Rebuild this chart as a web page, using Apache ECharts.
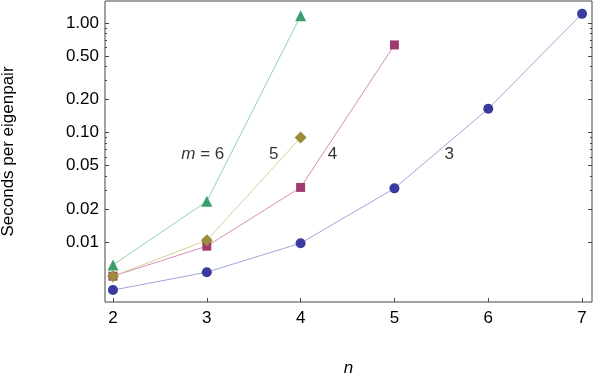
<!DOCTYPE html>
<html>
<head>
<meta charset="utf-8">
<script src="https://cdn.jsdelivr.net/npm/echarts@6/dist/echarts.min.js"></script>
<style>
  html, body { margin: 0; padding: 0; background: #fff; }
  #chart { width: 598px; height: 378px; }
</style>
</head>
<body>
<div id="chart"></div>
<script>
// values (seconds per eigenpair)
const nValues = [2, 3, 4, 5, 6, 7]
const m3 = [0.00366, 0.00533, 0.0098, 0.031, 0.165, 1.21]
const m4 = [0.0049, 0.0092, 0.0316, 0.63]
const m5 = [0.0049, 0.0104, 0.09]
const m6 = [0.0062, 0.0236, 1.16]

const yMajorTicks = [0.01, 0.02, 0.05, 0.1, 0.2, 0.5, 1]
const yMinorTicks = [0.03, 0.04, 0.06, 0.07, 0.08, 0.09, 0.3, 0.4, 0.6, 0.7, 0.8, 0.9]
const xTicks = [2, 3, 4, 5, 6, 7]

// in-plot curve labels: [n, value, text]
const curveLabels = [
  [2.957, 0.063, '{i|m} = 6'],
  [3.713, 0.063, '5'],
  [4.34, 0.063, '4'],
  [5.585, 0.063, '3']
]

const yMin = 0.00285
const yMax = 1.585
const font = 'Liberation Sans, Arial, sans-serif'
const fs = 17

const chart = echarts.init(document.getElementById('chart'))

const pts = arr => arr.map((v, i) => [nValues[i], v])
const lg = v => Math.log10(v)

// helper for overlay axes that only carry ticks/labels
const tickAxis = (position, ticks, len, labels) => ({
  type: 'value',
  position,
  min: lg(yMin),
  max: lg(yMax),
  axisLine: { show: false, onZero: false },
  splitLine: { show: false },
  axisTick: {
    show: true, inside: true, length: len,
    customValues: ticks.map(lg),
    lineStyle: { color: '#444', width: 1 }
  },
  axisLabel: labels ? {
    show: true,
    customValues: ticks.map(lg),
    color: '#000',
    fontFamily: font,
    fontSize: fs,
    margin: 6,
    formatter: v => {
      const t = ticks.find(x => Math.abs(lg(x) - v) < 1e-6)
      return t === undefined ? '' : t.toFixed(2)
    }
  } : { show: false }
})

const lineSeries = (name, data, color, lineColor, symbol, size) => ({
  name,
  type: 'line',
  xAxisIndex: 0,
  yAxisIndex: 0,
  data: pts(data),
  symbol,
  symbolSize: size,
  itemStyle: { color },
  lineStyle: { color: lineColor, width: 1 },
  emphasis: { disabled: true },
  animation: false
})

const option = {
  animation: false,
  grid: {
    left: 105, right: 6, top: 1, bottom: 76,
    outerBoundsMode: 'none',
    containLabel: false,
    show: true, borderColor: '#444', borderWidth: 1
  },
  xAxis: {
    type: 'value',
    min: 1.915,
    max: 7.106,
    axisLine: { show: false, onZero: false },
    splitLine: { show: false },
    axisTick: {
      show: true, inside: true, length: 4,
      customValues: xTicks,
      lineStyle: { color: '#444' }
    },
    axisLabel: {
      customValues: xTicks,
      color: '#000', fontFamily: font, fontSize: fs, margin: 8
    },
    name: 'n',
    nameLocation: 'middle',
    nameGap: 58,
    nameTextStyle: { color: '#000', fontFamily: font, fontSize: fs, fontStyle: 'italic' }
  },
  yAxis: [
    {
      type: 'log',
      logBase: 10,
      min: yMin,
      max: yMax,
      axisLine: { show: false, onZero: false },
      axisTick: { show: false },
      axisLabel: { show: false },
      splitLine: { show: false }
    },
    Object.assign(tickAxis('left', yMajorTicks, 4, true), {
      name: 'Seconds per eigenpair',
      nameLocation: 'middle',
      nameGap: 88,
      nameTextStyle: { color: '#000', fontFamily: font, fontSize: fs }
    }),
    tickAxis('left', yMinorTicks, 2, false),
    tickAxis('right', yMajorTicks, 4, false),
    tickAxis('right', yMinorTicks, 2, false)
  ],
  series: [
    lineSeries('m=3', m3, '#3b3b9f', '#a3a3dc', 'circle', 10),
    lineSeries('m=4', m4, '#9f3b70', '#d38fb2', 'rect', 9),
    lineSeries('m=5', m5, '#9c8b3b', '#d9cd98', 'diamond', 12),
    lineSeries('m=6', m6, '#3b9f6d', '#8fd1ab', 'triangle', 11),
    {
      type: 'scatter',
      xAxisIndex: 0,
      yAxisIndex: 0,
      symbolSize: 0,
      silent: true,
      data: curveLabels.map(d => ({ value: [d[0], d[1]], name: d[2] })),
      label: {
        show: true,
        position: 'inside',
        formatter: p => p.name,
        color: '#000',
        fontFamily: font,
        fontSize: fs,
        rich: {
          i: { fontStyle: 'italic', fontFamily: font, fontSize: fs, color: '#000' }
        }
      }
    }
  ]
}

chart.setOption(option)
</script>
</body>
</html>
